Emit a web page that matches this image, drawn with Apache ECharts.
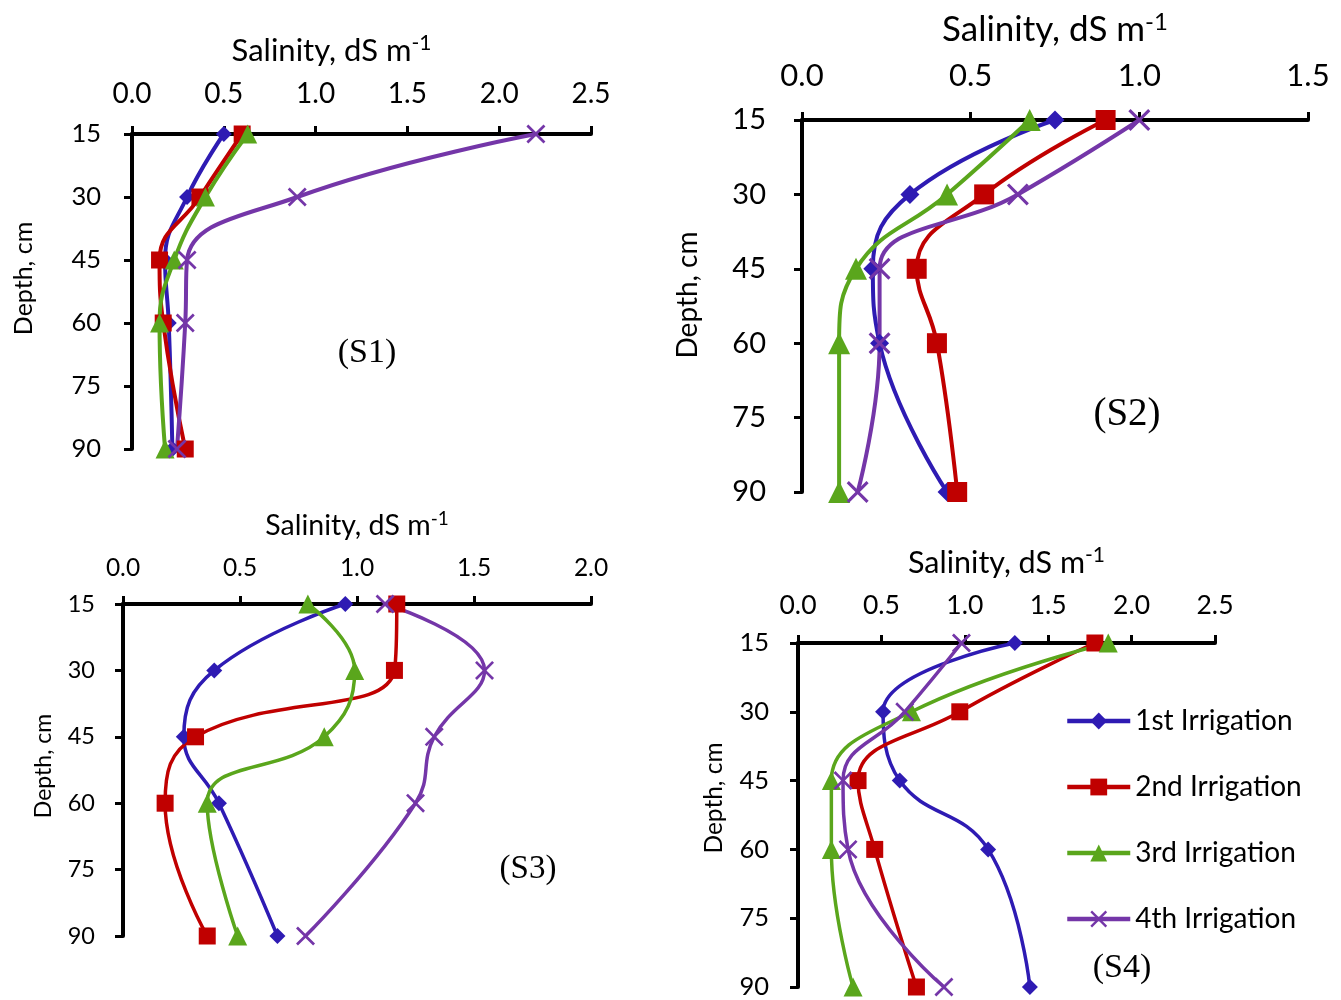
<!DOCTYPE html>
<html>
<head>
<meta charset="utf-8">
<script src="https://cdn.jsdelivr.net/npm/echarts@6/dist/echarts.min.js"></script>
<style>html,body{margin:0;padding:0;background:#fff}#chart{width:1341px;height:1000px}</style>
</head>
<body>
<div id="chart"></div>
<script>
// ---------------- data ----------------
const depthLevels = [15, 30, 45, 60, 90];
const seriesNames = ['1st Irrigation', '2nd Irrigation', '3rd Irrigation', '4th Irrigation'];
const panelNames = ['(S1)', '(S2)', '(S3)', '(S4)'];
const salinityAxisMax = [2.5, 1.5, 2.0, 2.5];
const salinityTickStep = 0.5;
const depthAxisMin = 15;
const depthAxisMax = 90;
const depthTickStep = 15;
const salinityTitle = 'Salinity, dS m';
const salinitySup = '-1';
const depthTitle = 'Depth, cm';

// S1
const s1Irr1 = [0.50, 0.30, 0.18, 0.20, 0.22];
const s1Irr2 = [0.60, 0.37, 0.15, 0.17, 0.29];
const s1Irr3 = [0.63, 0.40, 0.23, 0.15, 0.18];
const s1Irr4 = [2.20, 0.90, 0.30, 0.29, 0.245];
// S2
const s2Irr1 = [0.75, 0.32, 0.21, 0.23, 0.43];
const s2Irr2 = [0.90, 0.54, 0.34, 0.40, 0.46];
const s2Irr3 = [0.675, 0.43, 0.16, 0.11, 0.11];
const s2Irr4 = [1.00, 0.64, 0.23, 0.23, 0.165];
// S3
const s3Irr1 = [0.95, 0.39, 0.26, 0.41, 0.66];
const s3Irr2 = [1.17, 1.16, 0.31, 0.18, 0.36];
const s3Irr3 = [0.79, 0.99, 0.86, 0.36, 0.49];
const s3Irr4 = [1.12, 1.545, 1.33, 1.25, 0.78];
// S4
const s4Irr1 = [1.30, 0.51, 0.61, 1.14, 1.39];
const s4Irr2 = [1.78, 0.97, 0.36, 0.46, 0.71];
const s4Irr3 = [1.86, 0.68, 0.20, 0.20, 0.33];
const s4Irr4 = [0.98, 0.64, 0.27, 0.30, 0.875];

const panelValues = [
  [s1Irr1, s1Irr2, s1Irr3, s1Irr4],
  [s2Irr1, s2Irr2, s2Irr3, s2Irr4],
  [s3Irr1, s3Irr2, s3Irr3, s3Irr4],
  [s4Irr1, s4Irr2, s4Irr3, s4Irr4]
];

// ---------------- styles / layout ----------------
const FONT = 'Lato';
const SERIF = 'Liberation Serif';
const colors = ['#2E1BB3', '#C00000', '#5AA61C', '#7436A8'];
const crossPath = 'path://M0,2L2,0L10,8L18,0L20,2L12,10L20,18L18,20L10,12L2,20L0,18L8,10Z';
const symbols = ['diamond', 'rect', 'triangle', crossPath];

const layout = [
  {grid:{left:132,top:134,width:459,height:315}, xFont:28, yFont:25.5, xMargin:26, yMargin:31,
   titleFont:31, titleGap:65, titleShift:-30, yNameFont:25, yNameGap:96, yNameShift:13,
   sym:[16,17,19,19], lw:4, label:{x:367,y:353,size:34}},
  {grid:{left:802,top:120,width:506,height:372}, xFont:31, yFont:29, xMargin:29, yMargin:36,
   titleFont:35, titleGap:70, titleShift:0, yNameFont:28, yNameGap:100, yNameShift:11,
   sym:[19,20,22,22], lw:4, label:{x:1127,y:415,size:39}},
  {grid:{left:123,top:604,width:468,height:332}, xFont:24.5, yFont:23.5, xMargin:24, yMargin:28,
   titleFont:28.5, titleGap:61, titleShift:0, yNameFont:23, yNameGap:68, yNameShift:4,
   sym:[16,17,19,19], lw:3.5, label:{x:528,y:869,size:33}},
  {grid:{left:798,top:643,width:417,height:346}, xFont:26.5, yFont:25.5, xMargin:24, yMargin:29,
   titleFont:30.5, titleGap:62.5, titleShift:0, yNameFont:24.5, yNameGap:72, yNameShift:17,
   sym:[16,17,19,19], lw:3.5, label:{x:1122,y:968,size:34}}
];

const grids = [], xAxes = [], yAxes = [], series = [], graphics = [];

layout.forEach((L, p) => {
  grids.push(Object.assign({containLabel:false}, L.grid));
  const tf = L.titleFont, lh = tf + 5, fb = Math.round(tf * 0.68);
  const lb = lh - 0.666 * (tf - fb);
  xAxes.push({
    type:'value', gridIndex:p, position:'top', min:0, max:salinityAxisMax[p], interval:salinityTickStep,
    name:'{a|' + salinityTitle + '}{b|' + salinitySup + '}',
    nameLocation:'middle', nameGap:L.titleGap,
    nameTextStyle:{
      padding: L.titleShift < 0 ? [0, -2 * L.titleShift, 0, 0] : [0, 0, 0, 2 * L.titleShift],
      rich:{
        a:{fontFamily:FONT, fontSize:tf, lineHeight:lh, color:'#000'},
        b:{fontFamily:FONT, fontSize:fb, lineHeight:lb, verticalAlign:'top', color:'#000'}
      }
    },
    axisLine:{show:true, onZero:false, lineStyle:{color:'#000', width:4}},
    axisTick:{show:true, inside:false, length:8, lineStyle:{color:'#000', width:3}},
    axisLabel:{show:true, margin:L.xMargin, fontFamily:FONT, fontSize:L.xFont, lineHeight:L.xFont, color:'#000',
      formatter:(v) => v.toFixed(1)},
    splitLine:{show:false}
  });
  yAxes.push({
    type:'value', gridIndex:p, inverse:true, min:depthAxisMin, max:depthAxisMax, interval:depthTickStep,
    name:depthTitle, nameLocation:'middle', nameGap:L.yNameGap, nameRotate:90,
    nameTextStyle:{fontFamily:FONT, fontSize:L.yNameFont, lineHeight:L.yNameFont, color:'#000',
      padding:[0, 0, 0, 2 * L.yNameShift]},
    axisLine:{show:true, onZero:false, lineStyle:{color:'#000', width:4}},
    axisTick:{show:true, inside:false, length:8, lineStyle:{color:'#000', width:3}},
    axisLabel:{show:true, margin:L.yMargin, fontFamily:FONT, fontSize:L.yFont, color:'#000'},
    splitLine:{show:false}
  });
  panelValues[p].forEach((vals, s) => {
    series.push({
      name:seriesNames[s], type:'line', xAxisIndex:p, yAxisIndex:p,
      data: vals.map((v, i) => [v, depthLevels[i]]),
      smooth:0.45, clip:false, showSymbol:true, symbol:symbols[s], symbolSize:L.sym[s],
      lineStyle:{color:colors[s], width:L.lw},
      itemStyle:{color:colors[s]},
      emphasis:{disabled:true}, animation:false
    });
  });
  graphics.push({
    type:'text', x:L.label.x, y:L.label.y,
    style:{text:panelNames[p], font:L.label.size + 'px "' + SERIF + '"', fill:'#000', align:'center', verticalAlign:'middle'}
  });
});

const chart = echarts.init(document.getElementById('chart'), null, {renderer:'canvas'});
chart.setOption({
  backgroundColor:'#fff',
  animation:false,
  grid:grids, xAxis:xAxes, yAxis:yAxes, series:series,
  legend:{
    data:seriesNames, orient:'vertical', left:1065, top:706, padding:0,
    itemWidth:63, itemHeight:21, itemGap:36, itemTextGap:5,
    lineStyle:{width:4.5},
    textStyle:{fontFamily:FONT, fontSize:28, lineHeight:30, color:'#000'},
    selectedMode:false
  },
  graphic:graphics
});
</script>
</body>
</html>
